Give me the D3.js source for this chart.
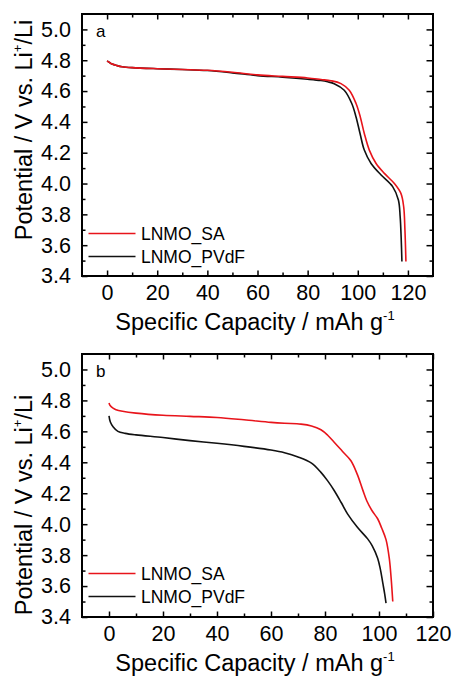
<!DOCTYPE html>
<html><head><meta charset="utf-8">
<script src="https://cdn.jsdelivr.net/npm/d3@7"></script>
<style>
html,body{margin:0;padding:0;background:#fff;}
svg{display:block;font-family:"Liberation Sans",Arial,sans-serif;}
</style></head>
<body>
<svg id="chart" width="454" height="676"></svg>
<script>
// ---- data ----
const seriesNames = ["LNMO_SA", "LNMO_PVdF"];
const seriesColors = ["#e8141b", "#111111"];
const xTicksMajor = [0, 20, 40, 60, 80, 100, 120];
const yTicksMajor = [3.4, 3.6, 3.8, 4.0, 4.2, 4.4, 4.6, 4.8, 5.0];

// panel a
const capA_SA = [0, 1, 2, 4, 6, 10, 20, 30, 40, 50, 60, 70, 80, 85.3, 89.3, 93.3, 96.6, 99.3, 101, 102.6, 104.6, 107.3, 110.6, 114.6, 117.2, 118.3, 118.8, 119.2];
const potA_SA = [4.795, 4.785, 4.775, 4.765, 4.758, 4.752, 4.745, 4.74, 4.735, 4.722, 4.705, 4.695, 4.685, 4.675, 4.667, 4.648, 4.605, 4.519, 4.432, 4.325, 4.217, 4.13, 4.066, 4.0, 3.936, 3.85, 3.70, 3.494];
const capA_PV = [0, 1, 2, 4, 6, 10, 20, 30, 40, 50, 60, 70, 80, 85.3, 88, 90.6, 94.6, 97.6, 99.3, 100.9, 102.6, 105.3, 109.3, 113.9, 116.2, 116.9, 117.3, 117.6];
const potA_PV = [4.795, 4.785, 4.775, 4.765, 4.758, 4.752, 4.745, 4.74, 4.733, 4.718, 4.7, 4.69, 4.677, 4.668, 4.66, 4.648, 4.605, 4.519, 4.432, 4.325, 4.217, 4.13, 4.055, 3.98, 3.893, 3.785, 3.65, 3.494];

// panel b
const capB_SA = [0, 0.5, 1.5, 2.6, 5, 10, 20, 30, 40, 50, 60, 65, 71.1, 75, 78.5, 81, 83.4, 86.5, 89.6, 92, 94, 95.5, 97.5, 99.5, 101, 102.6, 103.8, 104.5, 105.1];
const potB_SA = [4.784, 4.765, 4.75, 4.74, 4.73, 4.718, 4.704, 4.697, 4.69, 4.675, 4.658, 4.652, 4.647, 4.635, 4.61, 4.575, 4.53, 4.47, 4.41, 4.32, 4.22, 4.15, 4.085, 4.035, 3.975, 3.9, 3.78, 3.65, 3.5];
const capB_PV = [0, 0.5, 1.5, 3.3, 6, 10, 20, 30, 40, 50, 60, 65, 70, 75, 78.5, 81, 83.4, 86, 88.4, 92, 95.8, 97.5, 99.5, 100.5, 101.4, 102.1, 102.6];
const potB_PV = [4.70, 4.66, 4.63, 4.60, 4.587, 4.577, 4.56, 4.54, 4.523, 4.503, 4.479, 4.462, 4.435, 4.395, 4.335, 4.28, 4.218, 4.14, 4.065, 3.98, 3.905, 3.86, 3.78, 3.71, 3.62, 3.55, 3.49];

const panels = [
  {label: "a", xDomain: [-10, 130], box: {x0: 82, x1: 433, y0: 14, y1: 276}, titleCY: 130,
   series: [[capA_SA, potA_SA], [capA_PV, potA_PV]], legendY: [233.5, 256.5]},
  {label: "b", xDomain: [-10, 120], box: {x0: 82, x1: 433, y0: 354, y1: 617}, titleCY: 505,
   series: [[capB_SA, potB_SA], [capB_PV, potB_PV]], legendY: [573.5, 596.5]}
];

const svg = d3.select("#chart");

panels.forEach(p => {
  const b = p.box;
  const x = d3.scaleLinear().domain(p.xDomain).range([b.x0, b.x1]);
  const y = d3.scaleLinear().domain([3.4, 5.1]).range([b.y1, b.y0]);
  const g = svg.append("g");

  const xMinor = d3.range(-10, p.xDomain[1] + 0.01, 10).filter(v => v % 20 !== 0 && v > p.xDomain[0] && v < p.xDomain[1]);
  const yMinor = d3.range(3.5, 5.05, 0.2).map(v => +v.toFixed(1));

  const tickStyle = sel => sel.call(s => s.select(".domain").remove())
    .call(s => s.selectAll("line").attr("stroke", "#000").attr("stroke-width", 1.5))
    .call(s => s.selectAll("text").attr("fill", "#000").attr("font-size", "21.5px"));

  g.append("g").attr("transform", `translate(0,${b.y1})`)
    .call(d3.axisBottom(x).tickValues(xTicksMajor).tickSizeInner(-5.5).tickSizeOuter(0).tickPadding(9).tickFormat(d3.format("d")))
    .call(tickStyle);
  g.append("g").attr("transform", `translate(0,${b.y1})`)
    .call(d3.axisBottom(x).tickValues(xMinor).tickSize(-3.5).tickFormat(""))
    .call(tickStyle);
  g.append("g").attr("transform", `translate(0,${b.y0})`)
    .call(d3.axisTop(x).tickValues(xTicksMajor).tickSize(-5.5).tickFormat(""))
    .call(tickStyle);
  g.append("g").attr("transform", `translate(0,${b.y0})`)
    .call(d3.axisTop(x).tickValues(xMinor).tickSize(-3.5).tickFormat(""))
    .call(tickStyle);
  g.append("g").attr("transform", `translate(${b.x0},0)`)
    .call(d3.axisLeft(y).tickValues(yTicksMajor).tickSizeInner(-5.5).tickSizeOuter(0).tickPadding(11).tickFormat(d3.format(".1f")))
    .call(tickStyle);
  g.append("g").attr("transform", `translate(${b.x0},0)`)
    .call(d3.axisLeft(y).tickValues(yMinor).tickSize(-3.5).tickFormat(""))
    .call(tickStyle);
  g.append("g").attr("transform", `translate(${b.x1},0)`)
    .call(d3.axisRight(y).tickValues(yTicksMajor).tickSize(-6.5).tickFormat(""))
    .call(tickStyle);
  g.append("g").attr("transform", `translate(${b.x1},0)`)
    .call(d3.axisRight(y).tickValues(yMinor).tickSize(-3.5).tickFormat(""))
    .call(tickStyle);

  g.append("rect").attr("x", b.x0).attr("y", b.y0).attr("width", b.x1 - b.x0).attr("height", b.y1 - b.y0)
    .attr("fill", "none").attr("stroke", "#000").attr("stroke-width", 2);

  const line = d3.line().x(d => x(d[0])).y(d => y(d[1])).curve(d3.curveCatmullRom.alpha(0.5));
  // draw black first, red on top
  [1, 0].forEach(i => {
    const s = p.series[i];
    const pts = s[0].map((c, k) => [c, s[1][k]]);
    g.append("path").datum(pts).attr("d", line).attr("fill", "none")
      .attr("stroke", seriesColors[i]).attr("stroke-width", 1.6);
  });

  seriesNames.forEach((name, i) => {
    const ly = p.legendY[i];
    g.append("line").attr("x1", 88.5).attr("x2", 135.5).attr("y1", ly).attr("y2", ly)
      .attr("stroke", seriesColors[i]).attr("stroke-width", 1.6);
    g.append("text").attr("x", 141).attr("y", ly + 6.3).attr("font-size", "17.5px").attr("fill", "#000").text(name);
  });

  g.append("text").attr("x", b.x0 + 14).attr("y", b.y0 + 23).attr("font-size", "17px").attr("fill", "#000").text(p.label);

  const xt = g.append("text").attr("x", 255).attr("y", b.y1 + 54).attr("text-anchor", "middle")
    .attr("font-size", "23.5px").attr("fill", "#000");
  xt.append("tspan").text("Specific Capacity / mAh g");
  xt.append("tspan").attr("font-size", "13px").attr("dy", -10).text("-1");

  const yt = g.append("text").attr("transform", `translate(32,${p.titleCY}) rotate(-90)`).attr("text-anchor", "middle")
    .attr("font-size", "23.5px").attr("fill", "#000");
  yt.append("tspan").text("Potential / V vs. Li");
  yt.append("tspan").attr("font-size", "13px").attr("dy", -10).text("+");
  yt.append("tspan").attr("dy", 10).text("/Li");
});
</script>
</body></html>
